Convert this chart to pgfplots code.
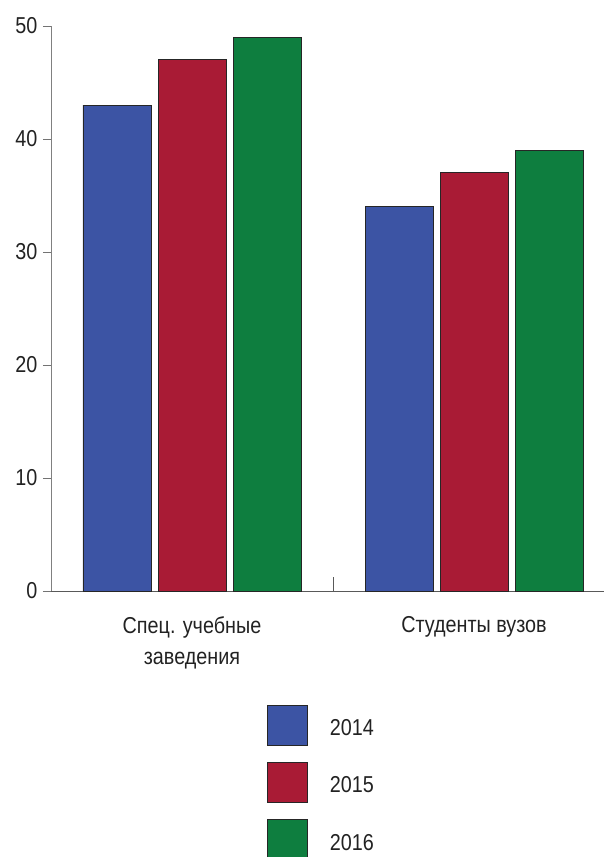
\documentclass[border=0pt]{standalone}
\usepackage{pgfplots}
\pgfplotsset{compat=1.18}
\usepackage{fontspec}
\setmainfont{Liberation Sans}[FakeStretch=0.86]
\definecolor{cA}{HTML}{3C54A4}
\definecolor{cB}{HTML}{A91B35}
\definecolor{cC}{HTML}{0E7E3F}
\definecolor{txt}{HTML}{222222}
\pgfplotsset{mylegend/.style={legend image code/.code={\draw[##1] (0pt,-12pt) rectangle (40pt,28pt);}}}
\begin{document}
\begin{tikzpicture}
\path[use as bounding box] (-51pt,-266pt) rectangle (554pt,591pt);
\begin{axis}[
  at={(0pt,0pt)}, anchor=south west,
  scale only axis, width=553pt, height=565pt,
  xmin=-0.5, xmax=1.461, ymin=0, ymax=50,
  axis x line*=bottom, axis y line*=left,
  x axis line style={draw=black!65, line width=0.9pt},
  y axis line style={draw=black!50, line width=0.9pt},
  ytick={0,10,20,30,40,50},
  ytick style={draw=black!55, line width=0.9pt},
  tick align=outside, major tick length=8pt,
  xtick={0,1},
  xticklabels={{Спец. учебные\\заведения},{Студенты вузов}},
  xtick style={draw=none},
  extra x ticks={0.5}, extra x tick labels={},
  extra x tick style={tick align=inside, major tick length=14pt, xtick style={draw=black!65, line width=0.9pt}},
  xticklabel style={align=center, font=\fontsize{23}{31}\selectfont, text=txt, yshift=-14pt},
  yticklabel style={font=\fontsize{23}{28}\selectfont, text=txt, xshift=-2pt},
  /pgf/number format/assume math mode=true,
  ybar,
  legend style={at={(0.3906,-0.2018)}, anchor=north west, draw=none, inner sep=0pt, outer sep=0pt,
    row sep=15pt, column sep=0pt, font=\fontsize{23}{28}\selectfont, text=txt,
    nodes={inner sep=0pt, text=txt}},
  legend cell align=left,
]
\addplot[ybar, bar width=68pt, bar shift=-75pt, fill=cA, draw=black!85, line width=0.9pt, mylegend]
  coordinates {(0,43) (1,34)};
\addlegendentry{\hspace{22pt}\raisebox{10pt}{2014}}
\addplot[ybar, bar width=68pt, bar shift=0pt, fill=cB, draw=black!85, line width=0.9pt, mylegend]
  coordinates {(0,47) (1,37)};
\addlegendentry{\hspace{22pt}\raisebox{10pt}{2015}}
\addplot[ybar, bar width=68pt, bar shift=75pt, fill=cC, draw=black!85, line width=0.9pt, mylegend]
  coordinates {(0,49) (1,39)};
\addlegendentry{\hspace{22pt}\raisebox{10pt}{2016}}
\end{axis}
\end{tikzpicture}
\end{document}
